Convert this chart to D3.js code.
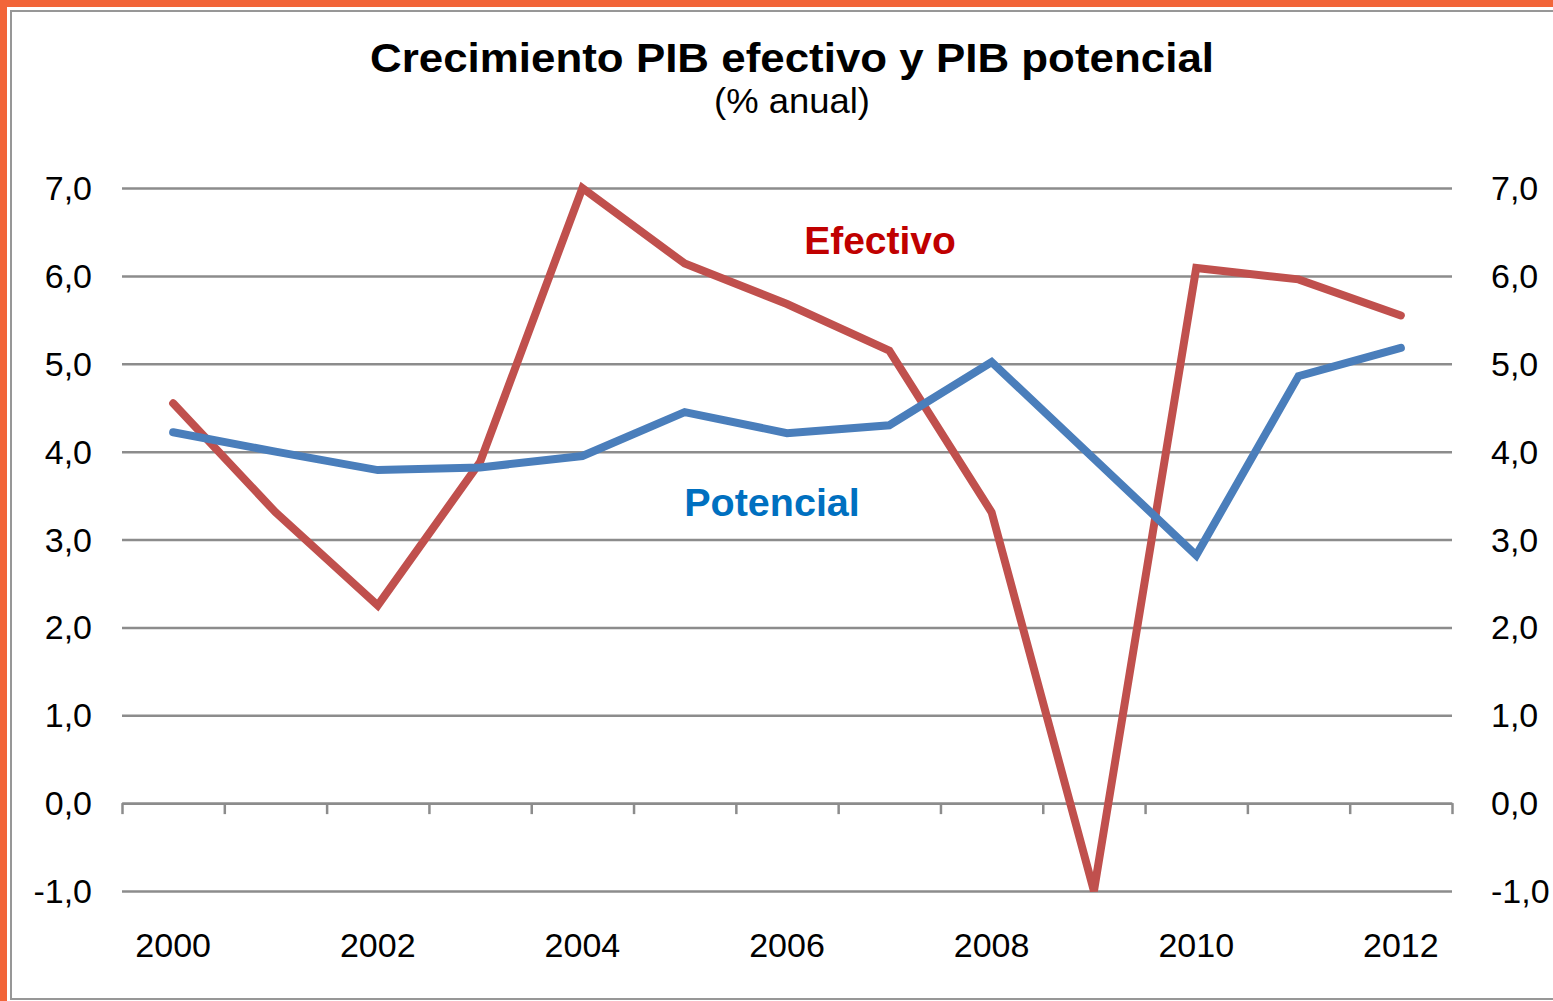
<!DOCTYPE html>
<html>
<head>
<meta charset="utf-8">
<script src="https://cdn.jsdelivr.net/npm/d3@7"></script>
<style>
  body { margin: 0; background: #fff; }
  text { font-family: "Liberation Sans", Arial, sans-serif; }
</style>
</head>
<body>
<svg width="1553" height="1001"></svg>
<script>
var years = [2000, 2001, 2002, 2003, 2004, 2005, 2006, 2007, 2008, 2009, 2010, 2011, 2012];
var efectivo = [4.55, 3.31, 2.25, 3.88, 7.0, 6.14, 5.68, 5.15, 3.31, -1.0, 6.09, 5.96, 5.55];
var potencial = [4.22, 4.0, 3.79, 3.82, 3.95, 4.45, 4.21, 4.30, 5.02, 3.92, 2.82, 4.86, 5.18];
var yTicks = [-1, 0, 1, 2, 3, 4, 5, 6, 7];
var xLabels = [2000, 2002, 2004, 2006, 2008, 2010, 2012];

var svg = d3.select("svg"),
    width = +svg.attr("width"),
    height = +svg.attr("height");

// frame: orange band + grey chart border
svg.append("rect").attr("x", 0).attr("y", 0).attr("width", width).attr("height", height).attr("fill", "#f26539");
svg.append("rect").attr("x", 7).attr("y", 7).attr("width", width).attr("height", height).attr("fill", "#fff");
svg.append("rect")
    .attr("x", 11).attr("y", 11)
    .attr("width", width + 10).attr("height", height - 13)
    .attr("fill", "#fff")
    .attr("stroke", "#979797")
    .attr("stroke-width", 2);

var left = 122, right = 1452;

// scales
var xb = d3.scaleLinear().domain([0, years.length]).range([left, right]);
var x = function(i) { return xb(i + 0.5); };
var y = d3.scaleLinear().domain([-1, 7]).range([891, 188]);

var comma = d3.formatLocale({decimal: ",", thousands: ".", grouping: [3], currency: ["", "€"], minus: "-"}).format(".1f");

// gridlines
svg.append("g")
    .attr("transform", "translate(" + left + ",0)")
    .call(d3.axisLeft(y).tickValues(yTicks).tickSize(-(right - left)).tickFormat(""))
    .call(function(g) { g.select(".domain").remove(); })
    .selectAll("line")
      .attr("stroke", "#8c8c8c")
      .attr("stroke-width", 2.5);

// y labels both sides
svg.append("g").selectAll("text")
  .data(yTicks)
  .enter().append("text")
    .attr("x", 92)
    .attr("y", function(d) { return y(d) + 12; })
    .attr("text-anchor", "end")
    .attr("font-size", 34)
    .attr("fill", "#000")
    .text(function(d) { return comma(d); });

svg.append("g").selectAll("text")
  .data(yTicks)
  .enter().append("text")
    .attr("x", 1491)
    .attr("y", function(d) { return y(d) + 12; })
    .attr("text-anchor", "start")
    .attr("font-size", 34)
    .attr("fill", "#000")
    .text(function(d) { return comma(d); });

// x axis at zero with boundary ticks
var xAxis = svg.append("g")
    .attr("transform", "translate(0," + y(0) + ")")
    .call(d3.axisBottom(xb).tickValues(d3.range(years.length + 1)).tickSize(11).tickSizeOuter(0).tickFormat(""));
xAxis.select(".domain").attr("stroke", "#8c8c8c").attr("stroke-width", 2.5);
xAxis.selectAll("line").attr("stroke", "#8c8c8c").attr("stroke-width", 2.5);

svg.append("g").selectAll("text")
  .data(xLabels)
  .enter().append("text")
    .attr("x", function(d) { return x(years.indexOf(d)); })
    .attr("y", 957)
    .attr("text-anchor", "middle")
    .attr("font-size", 34)
    .attr("fill", "#000")
    .text(function(d) { return d; });

// lines
var line = d3.line()
    .x(function(d, i) { return x(i); })
    .y(function(d) { return y(d); });

svg.append("path")
    .datum(efectivo)
    .attr("d", line)
    .attr("fill", "none")
    .attr("stroke", "#c0504d")
    .attr("stroke-width", 8)
    .attr("stroke-linecap", "round");

svg.append("path")
    .datum(potencial)
    .attr("d", line)
    .attr("fill", "none")
    .attr("stroke", "#4a7ebb")
    .attr("stroke-width", 8)
    .attr("stroke-linecap", "round");

// series labels
svg.append("text")
    .attr("x", 880).attr("y", 254)
    .attr("text-anchor", "middle")
    .attr("font-size", 39).attr("font-weight", "bold")
    .attr("fill", "#c00000")
    .text("Efectivo");

svg.append("text")
    .attr("x", 772).attr("y", 516)
    .attr("text-anchor", "middle")
    .attr("font-size", 39.5).attr("font-weight", "bold")
    .attr("fill", "#0070c0")
    .text("Potencial");

// title
svg.append("text")
    .attr("x", 792).attr("y", 72)
    .attr("text-anchor", "middle")
    .attr("font-size", 41).attr("font-weight", "bold")
    .attr("textLength", 844).attr("lengthAdjust", "spacingAndGlyphs")
    .attr("fill", "#000")
    .text("Crecimiento PIB efectivo y PIB potencial");

svg.append("text")
    .attr("x", 792).attr("y", 113)
    .attr("text-anchor", "middle")
    .attr("font-size", 35)
    .attr("textLength", 156).attr("lengthAdjust", "spacingAndGlyphs")
    .attr("fill", "#000")
    .text("(% anual)");
</script>
</body>
</html>
